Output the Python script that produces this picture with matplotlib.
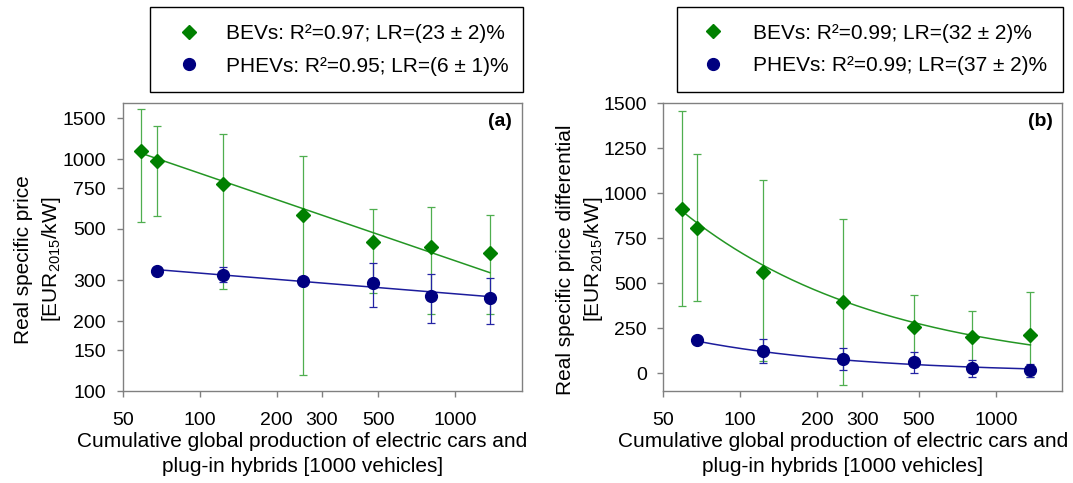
import numpy as np
import matplotlib
matplotlib.use("Agg")
import matplotlib.pyplot as plt
from matplotlib.lines import Line2D
from matplotlib.patches import Rectangle
from matplotlib.ticker import NullLocator

plt.rcParams['font.family'] = ['Liberation Sans', 'DejaVu Sans']
plt.rcParams['mathtext.fontset'] = 'custom'
plt.rcParams['mathtext.rm'] = 'Liberation Sans'
plt.rcParams['font.size'] = 15

# Cumulative global production [1000 vehicles]
prod_bev = [59, 68, 123, 253, 477, 806, 1366]
prod_phev = [68, 123, 253, 477, 806, 1366]

# (a) real specific price [EUR2015/kW]
price_bev = [1086, 977, 780, 572, 438, 418, 394]
price_bev_lo = [534, 568, 277, 117, 265, 216, 215]
price_bev_hi = [1641, 1392, 1285, 1027, 611, 622, 572]
price_phev = [330, 318, 297, 293, 258, 251]
price_phev_lo = [324, 295, 291, 230, 197, 195]
price_phev_hi = [336, 342, 303, 356, 319, 306]

# (b) real specific price differential [EUR2015/kW]
diff_bev = [915, 807, 562, 393, 256, 199, 213]
diff_bev_lo = [375, 403, 70, -63, 80, 50, -22]
diff_bev_hi = [1459, 1216, 1071, 856, 436, 347, 451]
diff_phev = [182, 126, 80, 61, 30, 19]
diff_phev_lo = [176, 57, 20, 4, -20, -20]
diff_phev_hi = [188, 191, 139, 117, 72, 52]

# learning curve fits: learning rate and fitted value at first point
lr_a = [0.23, 0.06]
fit0_a = [1060, 334]
lr_b = [0.32, 0.37]
fit0_b = [902, 178]

legend_a = ['BEVs: R²=0.97; LR=(23 ± 2)%', 'PHEVs: R²=0.95; LR=(6 ± 1)%']
legend_b = ['BEVs: R²=0.99; LR=(32 ± 2)%', 'PHEVs: R²=0.99; LR=(37 ± 2)%']

GREEN = '#008000'
GREEN_ERR = '#4fae4f'
GREEN_FIT = '#249624'
NAVY = '#000080'
NAVY_ERR = '#2424a4'
NAVY_FIT = '#1c1c9c'
GREY = '#808080'


def learning_curve(x, y0, lr):
    xs = np.geomspace(x[0], x[-1], 200)
    return xs, y0 * (xs / x[0]) ** np.log2(1 - lr)


def draw_series(ax, x, y, lo, hi, lr, y0, marker, ms, col, ecol, fcol, z):
    y = np.array(y)
    yerr = [y - np.array(lo), np.array(hi) - y]
    ax.errorbar(x, y, yerr=yerr, fmt='none', ecolor=ecol, elinewidth=0.9,
                capsize=3, capthick=0.9, zorder=z)
    xs, ys = learning_curve(x, y0, lr)
    ax.plot(xs, ys, color=fcol, lw=1.1, zorder=z + 1)
    ax.plot(x, y, ls='none', marker=marker, ms=ms, color=col, mec=col, zorder=z + 2)


def style_axes(ax):
    for s in ax.spines.values():
        s.set_color(GREY)
        s.set_linewidth(1.0)
    ax.tick_params(which='both', direction='out', length=4, width=1, color=GREY,
                   top=False, right=False, labelsize=14)
    ax.tick_params(axis='y', pad=8)
    ax.tick_params(axis='x', pad=11)
    ax.set_xscale('log')
    ax.set_xlim(50, 1820)
    ax.set_xticks([50, 100, 200, 300, 500, 1000])
    ax.set_xticklabels(['50', '100', '200', '300', '500', '1000'])
    ax.xaxis.set_minor_locator(NullLocator())
    ax.set_xlabel('Cumulative global production of electric cars and\nplug-in hybrids [1000 vehicles]',
                  linespacing=1.4, fontsize=15)
    ax.xaxis.set_label_coords(0.45, -0.143)


def add_legend(fig, box, marker_x, text_x, labels):
    W, H = fig.get_size_inches() * fig.dpi
    x0, y0, x1, y1 = box
    fig.add_artist(Rectangle((x0 / W, 1 - y1 / H), (x1 - x0) / W, (y1 - y0) / H,
                             transform=fig.transFigure, fill=False, ec='black', lw=1.0))
    handles = [Line2D([], [], ls='none', marker='D', ms=7, color=GREEN),
               Line2D([], [], ls='none', marker='o', ms=8.5, color=NAVY)]
    em = 15 * fig.dpi / 72
    hl = 1.0
    start = marker_x - hl * em / 2
    pad = (text_x - start - hl * em) / em
    fig.legend(handles, labels, loc='center left',
               bbox_to_anchor=(start / W, 1 - (y0 + y1) / 2 / H),
               frameon=False, handlelength=hl, handletextpad=pad,
               labelspacing=0.66, borderpad=0, borderaxespad=0, fontsize=15)


fig = plt.figure(figsize=(10.73, 4.83), dpi=100)
ax1 = fig.add_axes([0.1144, 0.19, 0.3718, 0.5963])
ax2 = fig.add_axes([0.6182, 0.19, 0.3718, 0.5963])

# panel (a)
draw_series(ax1, prod_bev, price_bev, price_bev_lo, price_bev_hi, lr_a[0], fit0_a[0],
            'D', 7, GREEN, GREEN_ERR, GREEN_FIT, 2)
draw_series(ax1, prod_phev, price_phev, price_phev_lo, price_phev_hi, lr_a[1], fit0_a[1],
            'o', 8.5, NAVY, NAVY_ERR, NAVY_FIT, 5)
style_axes(ax1)
ax1.set_yscale('log')
ax1.set_ylim(100, 1740)
ax1.set_yticks([100, 150, 200, 300, 500, 750, 1000, 1500])
ax1.set_yticklabels(['100', '150', '200', '300', '500', '750', '1000', '1500'])
ax1.yaxis.set_minor_locator(NullLocator())
ax1.set_ylabel('Real specific price\n[EUR$_\\mathregular{2015}$/kW]', linespacing=1.4, fontsize=15)
ax1.yaxis.set_label_coords(-0.151, 0.457)
ax1.text(0.976, 0.965, '(a)', transform=ax1.transAxes, ha='right', va='top',
         fontsize=14, fontweight='bold')

# panel (b)
draw_series(ax2, prod_bev, diff_bev, diff_bev_lo, diff_bev_hi, lr_b[0], fit0_b[0],
            'D', 7, GREEN, GREEN_ERR, GREEN_FIT, 2)
draw_series(ax2, prod_phev, diff_phev, diff_phev_lo, diff_phev_hi, lr_b[1], fit0_b[1],
            'o', 8.5, NAVY, NAVY_ERR, NAVY_FIT, 5)
style_axes(ax2)
ax2.set_ylim(-100, 1500)
ax2.set_yticks([0, 250, 500, 750, 1000, 1250, 1500])
ax2.set_ylabel('Real specific price differential\n[EUR$_\\mathregular{2015}$/kW]', linespacing=1.4,
               fontsize=15)
ax2.yaxis.set_label_coords(-0.146, 0.457)
ax2.text(0.976, 0.965, '(b)', transform=ax2.transAxes, ha='right', va='top',
         fontsize=14, fontweight='bold')

add_legend(fig, (150.4, 7.4, 523.3, 92.2), 189.3, 226, legend_a)
add_legend(fig, (677, 7.3, 1063.3, 91.7), 713.3, 752.7, legend_b)

fig.savefig('out.png', dpi=100)
